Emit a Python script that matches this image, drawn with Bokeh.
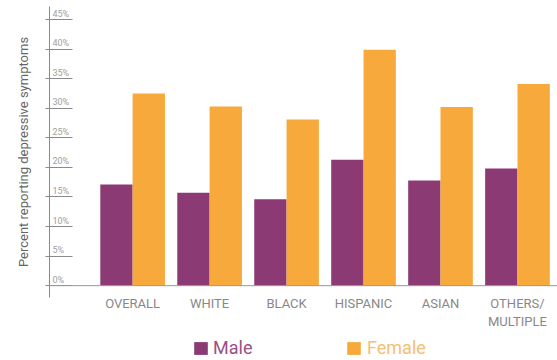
from bokeh.plotting import figure
from bokeh.layouts import column
from bokeh.models import (Range1d, FixedTicker, Span, Legend, LegendItem,
                          ColumnDataSource)
from bokeh.core.properties import value
from bokeh.embed import file_html
from bokeh.resources import INLINE

categories = ["OVERALL", "WHITE", "BLACK", "HISPANIC", "ASIAN", "OTHERS/\nMULTIPLE"]
male = [17.1, 15.7, 14.6, 21.3, 17.8, 19.8]
female = [32.5, 30.3, 28.1, 39.9, 30.2, 34.1]
y_ticks = [0, 5, 10, 15, 20, 25, 30, 35, 40, 45]
y_labels = [f"{t}%" for t in y_ticks]
series_names = ["Male", "Female"]

PURPLE = "#8B3A74"
ORANGE = "#F7A93B"

idx = list(range(len(categories)))
bw = 0.42
src = ColumnDataSource(dict(
    xm=[i - bw / 2 for i in idx], xf=[i + bw / 2 for i in idx],
    male=male, female=female))

xr = Range1d(-1.08, 5.52)
p = figure(width=557, height=336, output_backend="svg", toolbar_location=None,
           x_range=xr, y_range=Range1d(-2.0, 47.2),
           min_border_left=49, min_border_right=0, min_border_top=6,
           min_border_bottom=39)
p.outline_line_color = None
p.grid.visible = False

p.vbar(x="xm", top="male", width=bw, bottom=0, source=src,
       fill_color=PURPLE, line_color=None)
p.vbar(x="xf", top="female", width=bw, bottom=0, source=src,
       fill_color=ORANGE, line_color=None)

p.add_layout(Span(location=0, dimension="width", line_color="#999999",
                  line_width=1))

# y axis (tick labels drawn inside, above the tick lines)
ya = p.yaxis[0]
ya.ticker = FixedTicker(ticks=y_ticks)
ya.major_label_overrides = {t: "" for t in y_ticks}
ya.axis_line_color = "#8a8a8a"
ya.major_tick_line_color = "#8a8a8a"
ya.major_tick_out = 4
ya.major_tick_in = 23
ya.minor_tick_line_color = None
ya.major_label_standoff = 0
ya.axis_label = "Percent reporting depressive symptoms"
ya.axis_label_text_font = "Roboto"
ya.axis_label_text_font_style = "normal"
ya.axis_label_text_font_size = "13px"
ya.axis_label_text_color = "#666666"
ya.axis_label_standoff = 15

lab_src = ColumnDataSource(dict(x=[xr.start] * len(y_ticks), y=y_ticks, t=y_labels))
p.text(x="x", y="y", text="t", source=lab_src, x_offset=3, y_offset=-1,
       text_baseline="bottom", text_align="left",
       text_font=value("Roboto"), text_font_size="9px", text_color="#9e9e9e")

# x axis
xa = p.xaxis[0]
xa.ticker = FixedTicker(ticks=idx)
xa.major_label_overrides = {i: c for i, c in zip(idx, categories)}
xa.axis_line_color = None
xa.major_tick_line_color = None
xa.minor_tick_line_color = None
xa.major_label_standoff = -8
xa.major_label_text_font = "Roboto"
xa.major_label_text_font_size = "13px"
xa.major_label_text_color = "#888888"

# legend strip
lf = figure(width=557, height=24, output_backend="svg", toolbar_location=None,
            x_range=Range1d(0, 1), y_range=Range1d(0, 1),
            x_axis_type=None, y_axis_type=None,
            min_border_left=0, min_border_right=0, min_border_top=0,
            min_border_bottom=0)
lf.outline_line_color = None
lf.grid.visible = False
dm = lf.vbar(x=[-5], top=[0], bottom=[0], width=0.1, fill_color=PURPLE, line_color=None)
dfm = lf.vbar(x=[-5], top=[0], bottom=[0], width=0.1, fill_color=ORANGE, line_color=None)

common = dict(padding=0, margin=0, spacing=0, glyph_width=17, glyph_height=16,
              label_text_font="Roboto", label_text_font_size="18px",
              label_text_font_style="normal",
              border_line_color=None, background_fill_alpha=0)
leg_m = Legend(items=[LegendItem(label=series_names[0], renderers=[dm])],
               location=(143, 2), label_standoff=4,
               label_text_color="#9B4F86", **common)
leg_f = Legend(items=[LegendItem(label=series_names[1], renderers=[dfm])],
               location=(296, 2), label_standoff=5,
               label_text_color="#F5BE72", **common)
lf.add_layout(leg_m, "center")
lf.add_layout(leg_f, "center")

layout = column(p, lf, spacing=0)
open("out.html", "w").write(file_html(layout, INLINE))
